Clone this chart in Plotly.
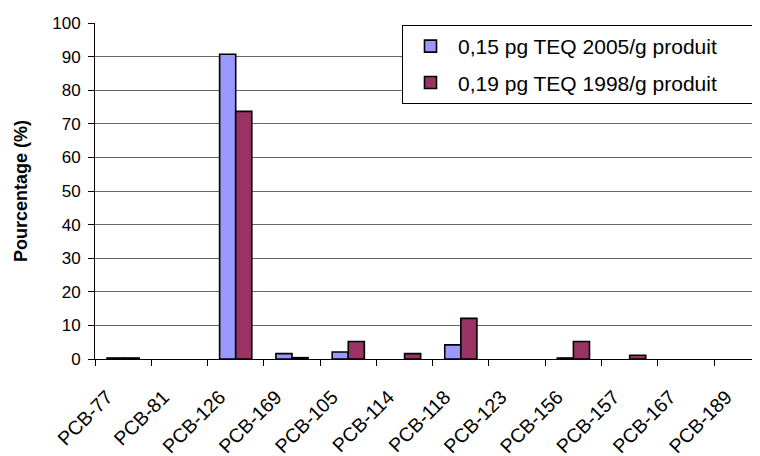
import plotly.graph_objects as go

categories = ["PCB-77", "PCB-81", "PCB-126", "PCB-169", "PCB-105", "PCB-114",
              "PCB-118", "PCB-123", "PCB-156", "PCB-157", "PCB-167", "PCB-189"]
teq2005 = [0.3, 0, 90.7, 1.6, 2.1, 0, 4.2, 0, 0.3, 0, 0, 0]
teq1998 = [0.3, 0, 73.7, 0.4, 5.2, 1.6, 12.1, 0, 5.2, 1.1, 0, 0]
name2005 = "0,15 pg TEQ 2005/g produit"
name1998 = "0,19 pg TEQ 1998/g produit"
ytickvals = list(range(0, 101, 10))

FONT = "Arial, 'Liberation Sans', sans-serif"
PAD = "\u00a0" * 6


def nz(vals):
    # zero-valued bars are not drawn (no outline) in the reference
    return [v if v != 0 else None for v in vals]


fig = go.Figure()
fig.add_trace(go.Bar(x=categories, y=nz(teq2005), name=name2005 + PAD, legendgroup="a",
                     marker=dict(color="#9999FF", line=dict(color="black", width=1.6))))
fig.add_trace(go.Bar(x=categories, y=nz(teq1998), name=name1998 + PAD, legendgroup="b",
                     marker=dict(color="#993366", line=dict(color="black", width=1.6))))

fig.update_layout(
    width=760, height=456,
    margin=dict(l=87, r=10, t=15, b=105),
    paper_bgcolor="white", plot_bgcolor="white",
    barmode="group", bargap=0.4286, bargroupgap=0,
    font=dict(family=FONT, color="black", size=16),
    showlegend=True,
    legend=dict(x=1, xanchor="right", y=0.994, yanchor="top",
                bgcolor="white", bordercolor="black", borderwidth=1,
                font=dict(size=21, family=FONT), tracegroupgap=6,
                traceorder="grouped", itemwidth=45),
    xaxis=dict(type="category", range=[-0.5, 11.28], tickson="boundaries",
               ticks="outside", ticklen=6, tickcolor="black",
               showline=True, linecolor="black", linewidth=1,
               tickangle=-45, tickfont=dict(size=19.5),
               ticklabelshift=-16, ticklabelstandoff=18,
               showgrid=False, automargin=False, fixedrange=True),
    yaxis=dict(range=[0, 100], tickvals=ytickvals, ticks="outside", ticklen=6,
               tickcolor="black", showline=True, linecolor="black", linewidth=1,
               showgrid=True, gridcolor="#666666", gridwidth=1,
               tickfont=dict(size=17), ticklabelstandoff=4,
               title=dict(text="<b>Pourcentage (%)</b>", font=dict(size=18), standoff=19),
               zeroline=False, automargin=False, fixedrange=True),
)

fig.write_html("out.html")
